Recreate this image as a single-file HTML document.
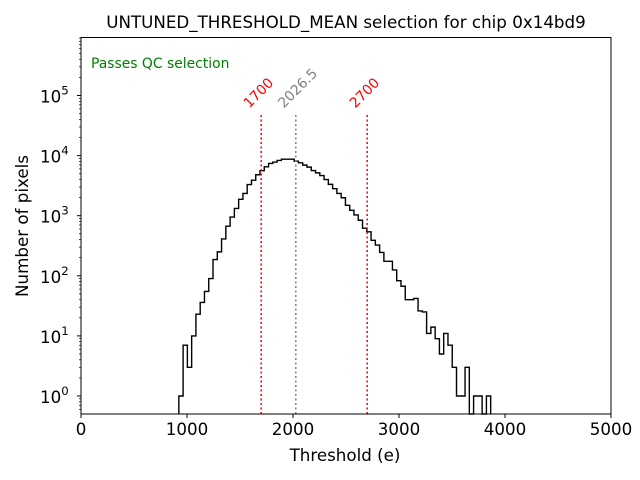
<!DOCTYPE html>
<html><head><meta charset="utf-8"><style>
body{margin:0;background:#fff;}
svg{display:block;font-family:"DejaVu Sans","Liberation Sans",sans-serif;}
</style></head><body>
<svg id="chart" width="640" height="480" viewBox="0 0 640 480" xmlns="http://www.w3.org/2000/svg">
<text x="346" y="28" font-size="16.7" text-anchor="middle">UNTUNED_THRESHOLD_MEAN selection for chip 0x14bd9</text>
<text x="345" y="461" font-size="16.7" text-anchor="middle">Threshold (e)</text>
<text x="28" y="226" font-size="16.7" text-anchor="middle" transform="rotate(-90 28 226)">Number of pixels</text>
<text x="91" y="68" font-size="13.9" fill="green">Passes QC selection</text>
<g id="plot"></g>
</svg>
<script>
const binStart = 923;
const binWidth = 40.3;
const counts = [1,7,3,10,23,36,55,90,186,250,410,670,950,1320,1870,2350,3300,3900,4800,5600,6500,7400,7800,8300,8700,8700,8700,
8080,7580,6940,6430,5640,5160,4660,4000,3320,2810,2350,1990,1490,1230,1030,840,620,540,390,325,245,174,174,125,83,67,40,40,42,26,25,11,14,9,5,11,7,3,1,1,3,0,1,1,0,1];
const xTicks = [0,1000,2000,3000,4000,5000];
const yTickExps = [0,1,2,3,4,5];
const cutValues = [1700,2700];
const meanValue = 2026.5;

const L=81,R=611,T=37.5,B=414;
const xMin=0,xMax=5000;
const y0=396, decade=60.1;
function X(v){return L+(v-xMin)/(xMax-xMin)*(R-L);}
function Y(v){if(v<=0) return B; return Math.min(B, y0-Math.log10(v)*decade);}
const NS="http://www.w3.org/2000/svg";
const g=document.getElementById('plot');
function mk(tag,attrs){const e=document.createElementNS(NS,tag);for(const k in attrs)e.setAttribute(k,attrs[k]);g.appendChild(e);return e;}

let d="M"+X(binStart)+","+B;
counts.forEach((c,i)=>{const x0=X(binStart+i*binWidth),x1=X(binStart+(i+1)*binWidth);d+=" L"+x0+","+Y(c)+" L"+x1+","+Y(c);});
d+=" L"+X(binStart+counts.length*binWidth)+","+B;
const hist=mk('path',{d:d,fill:'none',stroke:'#000','stroke-width':1.4});



function vline(v,color,label,name){
  const x=X(v);
  const ln=mk('line',{x1:x,x2:x,y1:B,y2:Y(48000),stroke:color,'stroke-width':1.5,'stroke-dasharray':'2,2.5'});
  
  
  const tx=x-12, ty=Y(48000)-6;
  const t=mk('text',{x:tx,y:ty,'font-size':13.9,fill:color,transform:'rotate(-45 '+tx+' '+ty+')'});
  t.textContent=label;
  
  
}
cutValues.forEach((v,i)=>vline(v,'red',String(v),i==0?'lower-cut':'upper-cut'));
vline(meanValue,'gray',String(meanValue),'mean');

const fr=mk('rect',{x:L,y:T,width:R-L,height:B-T,fill:'none',stroke:'#000','stroke-width':1});



xTicks.forEach(v=>{
  const x=X(v);
  const tk=mk('line',{x1:x,x2:x,y1:B,y2:B+4,stroke:'#000'});
  
  
  const t=mk('text',{x:x,y:B+21,'font-size':16.7,'text-anchor':'middle'});
  t.textContent=v;
  
  
});
yTickExps.forEach(e=>{
  const y=Y(Math.pow(10,e));
  const tk=mk('line',{x1:L-4,x2:L,y1:y,y2:y,stroke:'#000'});
  
  
  const t=mk('text',{x:40,y:y+7,'font-size':16.7});
  t.textContent='10';
  const s=document.createElementNS(NS,'tspan');s.setAttribute('dy','-8');s.setAttribute('font-size','11.7');s.textContent=e;t.appendChild(s);
  
  
});
for(let e=-1;e<=5;e++){for(let m=2;m<=9;m++){const v=m*Math.pow(10,e);const y=Y(v);if(y>=T&&y<B){
  const tk=mk('line',{x1:L-2,x2:L,y1:y,y2:y,stroke:'#000','stroke-width':0.7});
  
  
}}}
</script>
</body></html>
